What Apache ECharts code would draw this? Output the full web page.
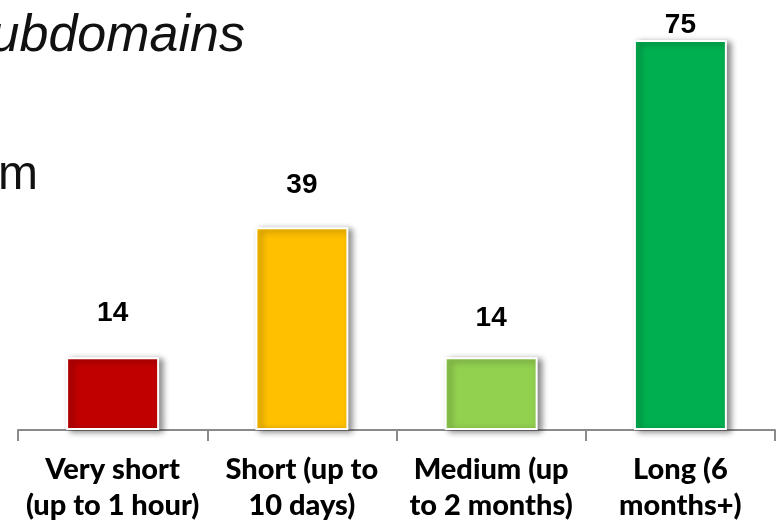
<!DOCTYPE html>
<html>
<head>
<meta charset="utf-8">
<script src="https://cdn.jsdelivr.net/npm/echarts@6/dist/echarts.min.js"></script>
<style>html,body{margin:0;padding:0;background:#fff;}#c{width:776px;height:525px;}</style>
</head>
<body>
<div id="c"></div>
<script>
const categories = ['Very short\n(up to 1 hour)', 'Short (up to\n10 days)', 'Medium (up\nto 2 months)', 'Long (6\nmonths+)'];
const values = [14, 39, 14, 75];
const barColors = ['#C00000', '#FFC000', '#92D050', '#00B050'];
const labelGaps = [30, 28, 25, 1];

const chart = echarts.init(document.getElementById('c'));
chart.setOption({
  backgroundColor: '#ffffff',
  animation: false,
  grid: { left: 18, right: 1, top: 14, bottom: 95 },
  xAxis: {
    type: 'category',
    data: categories,
    boundaryGap: true,
    axisLine: { show: true, lineStyle: { color: '#8a8a8a', width: 2 } },
    axisTick: { show: true, length: 11, alignWithLabel: false, lineStyle: { color: '#8a8a8a', width: 2 } },
    axisLabel: {
      interval: 0, margin: 22,
      fontFamily: 'Lato', fontWeight: 900, fontSize: 29, lineHeight: 36, color: '#000'
    }
  },
  yAxis: { type: 'value', min: 0, max: 80, show: false, splitLine: { show: false } },
  series: [{
    type: 'bar',
    barWidth: 93,
    data: values.map((v, i) => ({
      value: v,
      itemStyle: { color: barColors[i] },
      label: { distance: labelGaps[i] }
    })),
    itemStyle: {
      borderColor: '#ffffff', borderWidth: 2,
      shadowColor: 'rgba(0,0,0,0.45)', shadowBlur: 6, shadowOffsetX: 4, shadowOffsetY: 2
    },
    label: {
      show: true, position: 'top',
      fontFamily: 'Liberation Sans', fontWeight: 'bold', fontSize: 28, color: '#000'
    }
  }],
  graphic: [
    { type: 'text', x: 245, y: 11, style: { text: 'ubdomains', font: 'italic 52px "Liberation Sans"', fill: '#111', align: 'right' } },
    { type: 'text', x: 38, y: 152, style: { text: 'm', font: '48px "Liberation Sans"', fill: '#111', align: 'right' } }
  ]
});
</script>
</body>
</html>
